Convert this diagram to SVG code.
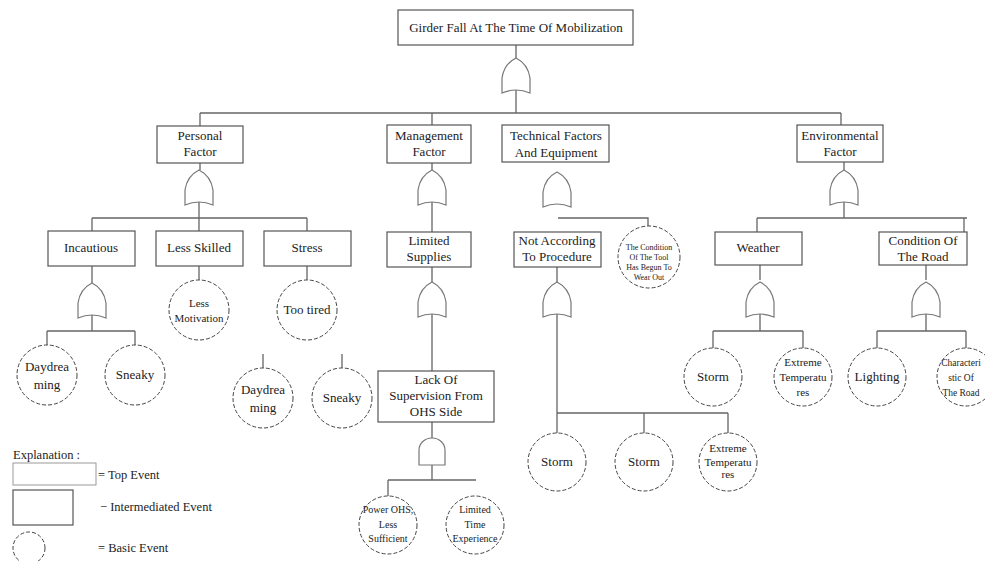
<svg xmlns="http://www.w3.org/2000/svg" width="985" height="561" viewBox="0 0 985 561" font-family="'Liberation Serif','DejaVu Serif','Times New Roman',serif">
<style>
.box{fill:#fff;stroke:#555;stroke-width:1.2}
.ev{fill:#fff;stroke:#444;stroke-width:1;stroke-dasharray:4 2}
.gate{fill:#fff;stroke:#777;stroke-width:1.2}
.ln{stroke:#666;stroke-width:1.3;fill:none}
text{font-family:'Liberation Serif','DejaVu Serif','Times New Roman',serif;fill:#222;font-size:13px;text-anchor:middle}
.s11{font-size:11px}
.s10{font-size:10px}
.s9{font-size:9.5px}
.s8{font-size:8px}
.lg{text-anchor:start;font-size:12.5px}
</style>
<defs>
<path id="or" class="gate" d="M0,0 Q12,6 14,20 L14,35 Q0,29 -14,35 L-14,20 Q-12,6 0,0 Z"/>
<path id="and" class="gate" d="M-13,27 L-13,12 A13,12 0 0 1 13,12 L13,27 Z"/>
</defs>
<rect width="985" height="561" fill="#fff"/>

<g id="connectors" class="ln">
<path d="M516,45 V58 M516,86 V113 M200,113 H841 M200,113 V126 M432,113 V125 M841,113 V125"/>
<path d="M200,163 V170 M199,199 V218 M92,218 H307 M92,218 V231 M199,218 V231 M307,218 V231"/>
<path d="M92,266 V283 M92,311 V331 M47,331 H135 M47,331 V345 M135,331 V345"/>
<path d="M199,266 V280 M307,266 V280 M263,354 V368 M342,354 V368"/>
<path d="M432,163 V170 M432,199 V232 M432,267 V282 M432,310 V371 M432,422 V438 M432,465 V480 M388,480 H476 M388,480 V496"/>
<path d="M558,218 H648 V226"/>
<path d="M557,267 V282 M557,309 V433 M557,413 H728 M644,413 V433 M728,413 V433"/>
<path d="M844,162 V170 M844,199 V218 M757,218 H967 M757,218 V232 M964,218 V232"/>
<path d="M760,265 V280 M760,311 V331 M713,331 H803 M713,331 V348 M803,331 V348"/>
<path d="M926,265 V280 M926,311 V331 M877,331 H966 M877,331 V348 M966,331 V348"/>
</g>

<g id="gates">
<use href="#or" x="516" y="58"/>
<use href="#or" x="199" y="170"/>
<use href="#or" x="432" y="170"/>
<use href="#or" x="557" y="172"/>
<use href="#or" x="844" y="170"/>
<use href="#or" x="92" y="283"/>
<use href="#or" x="432" y="282"/>
<use href="#or" x="557" y="282"/>
<use href="#or" x="760" y="282"/>
<use href="#or" x="926" y="282"/>
<use href="#and" x="432" y="438"/>
</g>

<g id="top">
<rect class="box" x="398" y="10" width="235" height="35"/>
<text x="516" y="32">Girder Fall At The Time Of Mobilization</text>
</g>
<g id="personal">
<rect class="box" x="157" y="126" width="86" height="37"/>
<text x="200" y="140">Personal</text><text x="200" y="156">Factor</text>
</g>
<g id="management">
<rect class="box" x="387" y="125" width="84" height="38"/>
<text x="429" y="140">Management</text><text x="429" y="156">Factor</text>
</g>
<g id="technical">
<rect class="box" x="502" y="125" width="107" height="37"/>
<text x="556" y="140">Technical Factors</text><text x="556" y="157">And Equipment</text>
</g>
<g id="environmental">
<rect class="box" x="797" y="125" width="86" height="37"/>
<text x="840" y="140">Environmental</text><text x="840" y="156">Factor</text>
</g>
<g id="incautious">
<rect class="box" x="48" y="231" width="87" height="35"/>
<text x="91" y="252">Incautious</text>
</g>
<g id="lessskilled">
<rect class="box" x="156" y="231" width="87" height="35"/>
<text x="199" y="252">Less Skilled</text>
</g>
<g id="stress">
<rect class="box" x="264" y="231" width="87" height="35"/>
<text x="307" y="252">Stress</text>
</g>
<g id="limitedsupplies">
<rect class="box" x="387" y="232" width="84" height="35"/>
<text x="429" y="245">Limited</text><text x="429" y="261">Supplies</text>
</g>
<g id="notaccording">
<rect class="box" x="514" y="232" width="87" height="35"/>
<text x="557" y="245">Not According</text><text x="557" y="261">To Procedure</text>
</g>
<g id="weather">
<rect class="box" x="715" y="232" width="87" height="33"/>
<text x="758" y="252">Weather</text>
</g>
<g id="conditionroad">
<rect class="box" x="879" y="232" width="88" height="33"/>
<text x="923" y="245">Condition Of</text><text x="923" y="261">The Road</text>
</g>
<g id="lacksupervision">
<rect class="box" x="378" y="371" width="116" height="51"/>
<text x="436" y="384">Lack Of</text><text x="436" y="400">Supervision From</text><text x="436" y="416">OHS Side</text>
</g>

<g id="daydreaming1">
<circle class="ev" cx="47" cy="375" r="30"/>
<text x="47" y="371">Daydrea</text><text x="47" y="389">ming</text>
</g>
<g id="sneaky1">
<circle class="ev" cx="135" cy="375" r="30"/>
<text x="135" y="379">Sneaky</text>
</g>
<g id="lessmotivation">
<circle class="ev" cx="199" cy="310" r="30"/>
<text class="s11" x="199" y="307">Less</text><text class="s11" x="199" y="322">Motivation</text>
</g>
<g id="tootired">
<circle class="ev" cx="307" cy="310" r="30"/>
<text x="307" y="314">Too tired</text>
</g>
<g id="daydreaming2">
<circle class="ev" cx="263" cy="398" r="30"/>
<text x="263" y="394">Daydrea</text><text x="263" y="412">ming</text>
</g>
<g id="sneaky2">
<circle class="ev" cx="342" cy="398" r="30"/>
<text x="342" y="402">Sneaky</text>
</g>
<g id="powerohs">
<circle class="ev" cx="388" cy="525" r="29"/>
<text class="s10" x="388" y="513">Power OHS,</text><text class="s10" x="388" y="528">Less</text><text class="s10" x="388" y="542">Sufficient</text>
</g>
<g id="limitedtime">
<circle class="ev" cx="475" cy="525" r="29"/>
<text class="s10" x="475" y="513">Limited</text><text class="s10" x="475" y="528">Time</text><text class="s10" x="475" y="542">Experience</text>
</g>
<g id="tool">
<circle class="ev" cx="649" cy="257" r="31"/>
<text class="s8" x="649" y="250">The Condition</text><text class="s8" x="649" y="260">Of The Tool</text><text class="s8" x="649" y="270">Has Begun To</text><text class="s8" x="649" y="280">Wear Out</text>
</g>
<g id="storm1">
<circle class="ev" cx="557" cy="462" r="29"/>
<text x="557" y="466">Storm</text>
</g>
<g id="storm2">
<circle class="ev" cx="644" cy="462" r="29"/>
<text x="644" y="466">Storm</text>
</g>
<g id="extreme1">
<circle class="ev" cx="728" cy="462" r="29"/>
<text class="s11" x="728" y="452">Extreme</text><text class="s11" x="728" y="466">Temperatu</text><text class="s11" x="728" y="478">res</text>
</g>
<g id="storm3">
<circle class="ev" cx="713" cy="377" r="29"/>
<text x="713" y="381">Storm</text>
</g>
<g id="extreme2">
<circle class="ev" cx="803" cy="377" r="29"/>
<text class="s11" x="803" y="366">Extreme</text><text class="s11" x="803" y="381">Temperatu</text><text class="s11" x="803" y="396">res</text>
</g>
<g id="lighting">
<circle class="ev" cx="877" cy="377" r="29"/>
<text x="877" y="381">Lighting</text>
</g>
<g id="characteristic">
<circle class="ev" cx="966" cy="377" r="29"/>
<text class="s9" x="961" y="366">Characteri</text><text class="s9" x="961" y="381">stic Of</text><text class="s9" x="961" y="396">The Road</text>
</g>

<g id="legend">
<text class="lg" x="13" y="459">Explanation :</text>
<rect x="13" y="463" width="83" height="22" fill="#fff" stroke="#999" stroke-width="1"/>
<text class="lg" x="98" y="479">= Top Event</text>
<rect class="box" x="13" y="490" width="60" height="35"/>
<text class="lg" x="100" y="511">− Intermediated Event</text>
<circle class="ev" cx="29" cy="548" r="16"/>
<text class="lg" x="98" y="552">= Basic Event</text>
</g>
</svg>
